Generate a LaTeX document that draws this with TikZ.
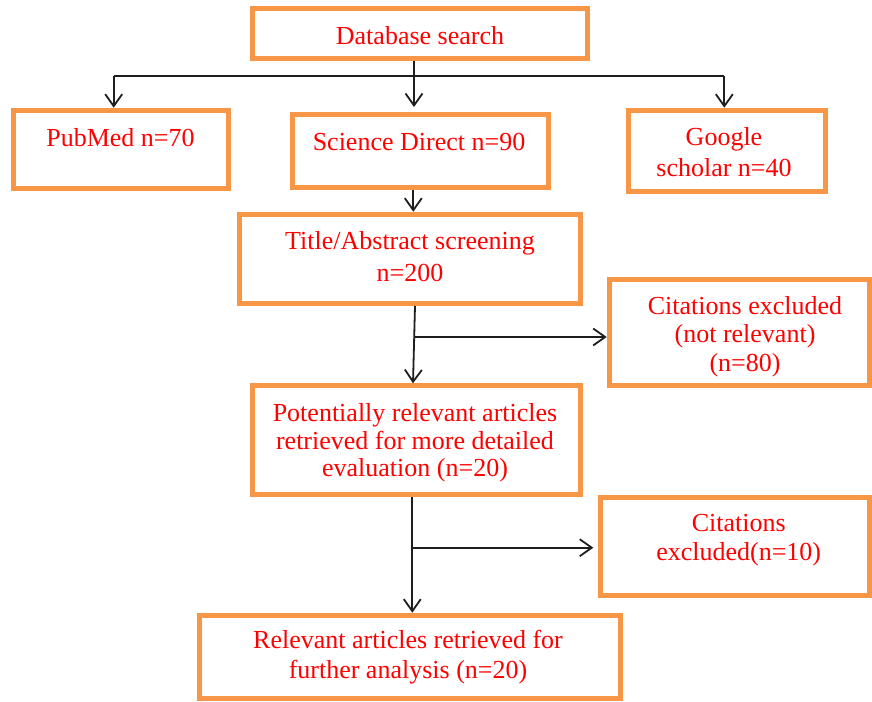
\documentclass[tikz,border=0pt]{standalone}
\usepackage{fontspec}
\setmainfont{Liberation Serif}
\usetikzlibrary{arrows.meta}
\definecolor{boxorange}{RGB}{247,150,70}
\definecolor{txtred}{RGB}{255,0,0}
\definecolor{linedark}{RGB}{30,30,30}
\tikzset{
  box/.style={draw=boxorange, line width=5pt, inner sep=0pt, fill=white},
  txt/.style={text=txtred, inner sep=0pt, align=center, font=\fontsize{26}{#1}\selectfont},
  txt/.default=28,
  conn/.style={draw=linedark, line width=1.8pt},
  arr/.style={conn, -{Straight Barb[length=12pt,width=17pt]}},
}
\begin{document}
\begin{tikzpicture}[x=1pt,y=-1pt]
\useasboundingbox (0,0) rectangle (872,701);
\fill[white] (0,0) rectangle (872,701);
% boxes
\node[box, minimum width=335pt, minimum height=50pt] (db) at (420,33.5) {};
\node[box, minimum width=214.7pt, minimum height=78.3pt] (pm) at (120.85,149.35) {};
\node[box, minimum width=256pt, minimum height=73pt] (sd) at (420.5,151) {};
\node[box, minimum width=197.6pt, minimum height=81.6pt] (gs) at (727,151) {};
\node[box, minimum width=340.7pt, minimum height=89.3pt] (ta) at (410.15,258.85) {};
\node[box, minimum width=260.3pt, minimum height=106.6pt] (c1) at (739.35,332.5) {};
\node[box, minimum width=328.3pt, minimum height=109pt] (pr) at (416.65,440.3) {};
\node[box, minimum width=268.7pt, minimum height=98.3pt] (c2) at (735.15,546.65) {};
\node[box, minimum width=421.6pt, minimum height=83.3pt] (rl) at (410,656.85) {};
% texts
\node[txt] (dbt) at (420,38.7) {\strut Database search};
\node[txt] (pmt) at (120.5,140.4) {\strut PubMed n=70};
\node[txt] (sdt) at (419,144.4) {\strut Science Direct n=90};
\node[txt=30.7] (gst) at (724,155.2) {\strut Google\\\strut scholar n=40};
\node[txt=31.7] (tat) at (410,259.5) {\strut Title/Abstract screening\\\strut n=200};
\node[txt=28.35] (c1t) at (745,337) {\strut Citations excluded\\\strut (not relevant)\\\strut (n=80)};
\node[txt=27.5] (prt) at (415,443.7) {\strut Potentially relevant articles\\\strut retrieved for more detailed\\\strut evaluation (n=20)};
\node[txt=29] (c2t) at (738.7,540.4) {\strut Citations\\\strut excluded(n=10)};
\node[txt=30] (rlt) at (408,657.3) {\strut Relevant articles retrieved for\\\strut further analysis (n=20)};
% connectors
\coordinate (jm) at (414,76);
\coordinate (jl) at (113.7,76);
\coordinate (jr) at (724.3,76);
\draw[conn] (jm |- db.south) -- (jm);
\draw[conn] (jl) -- (jr);
\draw[arr] (jl) -- (jl |- pm.north);
\draw[arr, shorten >=5pt] (jm) -- (jm |- sd.north);
\draw[arr] (jr) -- (jr |- gs.north);
\coordinate (a2) at (413.3,0);
\draw[arr] (a2 |- sd.south) -- (a2 |- ta.north);
\coordinate (a3t) at (415,0);
\coordinate (a3b) at (413,0);
\draw[arr] (a3t |- ta.south) -- (a3b |- pr.north);
\coordinate (b1) at (414.4,337);
\draw[arr] (b1) -- (b1 -| c1.west);
\coordinate (a4) at (412.3,0);
\draw[arr] (a4 |- pr.south) -- (a4 |- rl.north);
\coordinate (b2) at (412.3,547.7);
\draw[arr, shorten >=5pt] (b2) -- (b2 -| c2.west);
\end{tikzpicture}
\end{document}
